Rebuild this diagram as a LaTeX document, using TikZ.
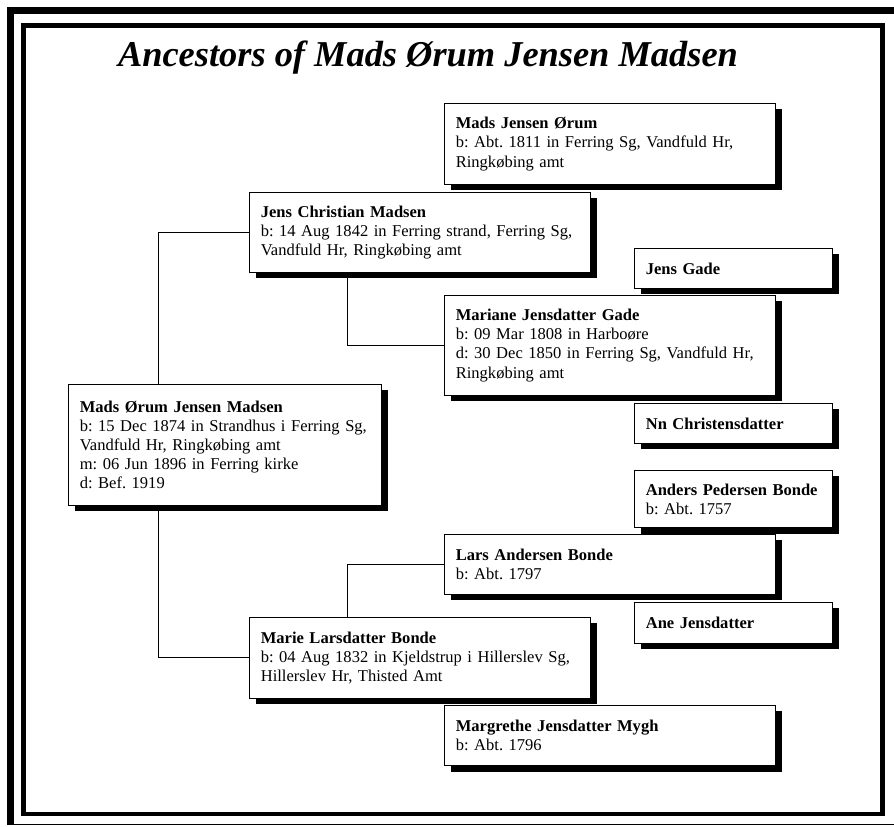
\documentclass[tikz,border=0pt]{standalone}
\usepackage{fontspec}
\setmainfont{Liberation Serif}
\usetikzlibrary{shadows,calc}
\frenchspacing

\begin{document}
\begin{tikzpicture}[x=0.75pt,y=-0.75pt]
        \useasboundingbox (0,0) rectangle (894,827);

        \draw[line width=5.25pt] (10,825) -- (10,10.5) -- (894,10.5);
        \draw[line width=0.75pt] (10,824.5) -- (894,824.5);
        \draw[line width=3.4pt] (23.5,25.5) rectangle (882.5,814);

        \node[anchor=base,font=\fontsize{27.3}{30}\selectfont\bfseries\itshape] (title) at (428,67) {Ancestors of Mads Ørum Jensen Madsen};

        \begin{scope}[every node/.style={draw,fill=white,line width=0.75pt,anchor=north west,align=left,inner xsep=8.5pt,
            font=\fontsize{12.4}{14.3}\selectfont,
            drop shadow={shadow xshift=4.5pt,shadow yshift=-4.5pt,fill=black,opacity=1}}]
          \node[text width=217.75pt,minimum height=90.75pt] (1) at (68,384)
            {\textbf{Mads Ørum Jensen Madsen}\\b: 15 Dec 1874 in Strandhus i Ferring Sg,\\Vandfuld Hr, Ringkøbing amt\\m: 06 Jun 1896 in Ferring kirke\\d: Bef. 1919};
          \node[text width=238.75pt,minimum height=60pt] (2) at (249,192)
            {\textbf{Jens Christian Madsen}\\b: 14 Aug 1842 in Ferring strand, Ferring Sg,\\Vandfuld Hr, Ringkøbing amt};
          \node[text width=238.75pt,minimum height=60.75pt] (3) at (249,617)
            {\textbf{Marie Larsdatter Bonde}\\b: 04 Aug 1832 in Kjeldstrup i Hillerslev Sg,\\Hillerslev Hr, Thisted Amt};
          \node[text width=231.25pt,minimum height=60.75pt] (4) at (444,103)
            {\textbf{Mads Jensen Ørum}\\b: Abt. 1811 in Ferring Sg, Vandfuld Hr,\\Ringkøbing amt};
          \node[text width=231.25pt,minimum height=75pt] (5) at (444,295)
            {\textbf{Mariane Jensdatter Gade}\\b: 09 Mar 1808 in Harboøre\\d: 30 Dec 1850 in Ferring Sg, Vandfuld Hr,\\Ringkøbing amt};
          \node[text width=231.25pt,minimum height=45pt] (6) at (444,534)
            {\textbf{Lars Andersen Bonde}\\b: Abt. 1797};
          \node[text width=231.25pt,minimum height=45pt] (7) at (444,705)
            {\textbf{Margrethe Jensdatter Mygh}\\b: Abt. 1796};
          \node[text width=131.5pt,minimum height=30pt] (10) at (634,248)
            {\textbf{Jens Gade}};
          \node[text width=131.5pt,minimum height=30pt] (11) at (634,403)
            {\textbf{Nn Christensdatter}};
          \node[text width=131.5pt,minimum height=43pt] (12) at (634,470)
            {\textbf{Anders Pedersen Bonde}\\b: Abt. 1757};
          \node[text width=131.5pt,minimum height=30.75pt] (13) at (634,602)
            {\textbf{Ane Jensdatter}};
        \end{scope}

        \begin{scope}[line width=0.75pt]
          \draw ($(1.north west)+(90,0)$) |- (2.west);
          \draw ($(1.south west)+(90,0)$) |- (3.west);
          \draw ($(2.south west)+(98,0)$) |- (5.west);
          \draw ($(3.north west)+(98,0)$) |- (6.west);
        \end{scope}

      \end{tikzpicture}
\end{document}
